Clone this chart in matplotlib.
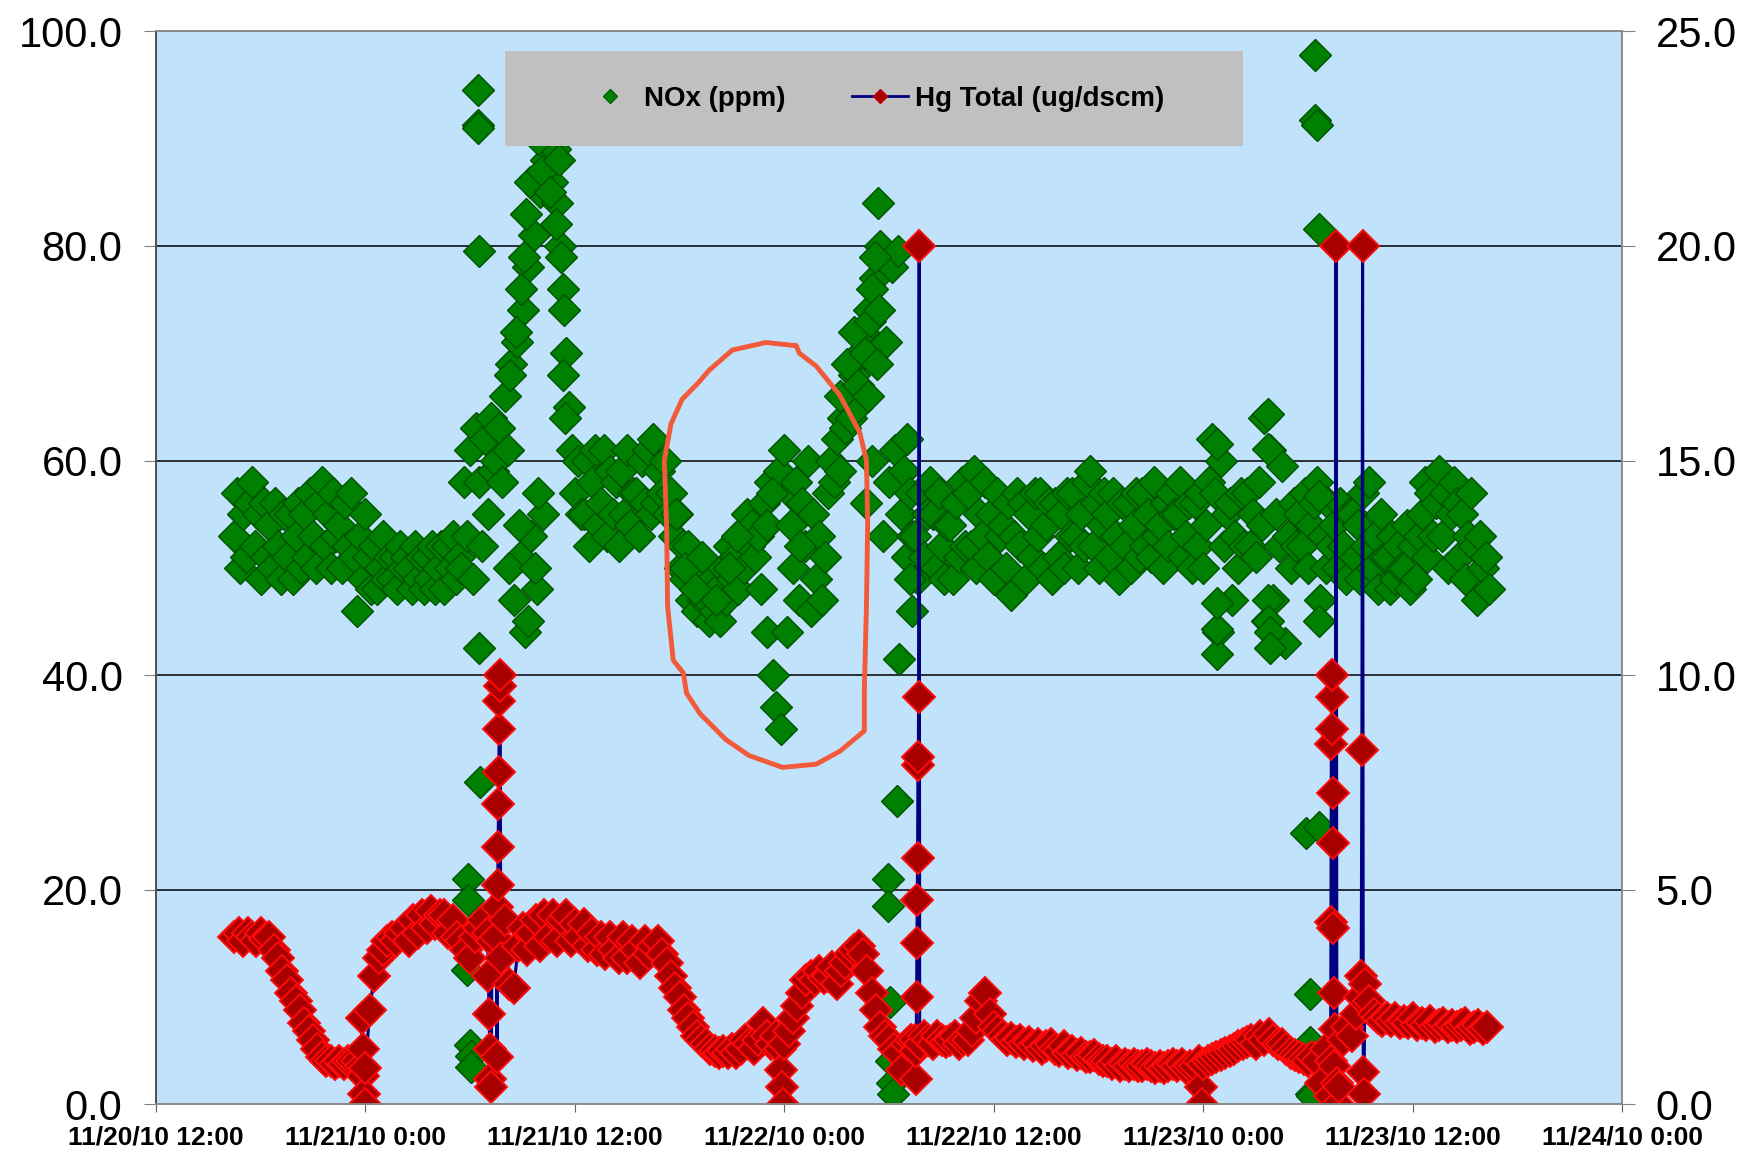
import numpy as np
import matplotlib
matplotlib.use('Agg')
import matplotlib.pyplot as plt
from matplotlib.lines import Line2D
from matplotlib.patches import Rectangle

plt.rcParams['font.family'] = ['Liberation Sans', 'DejaVu Sans']

# time in hours after 11/20/10 12:00, first reading at 16:30
start_hour = 4.5
nox_step = 1 / 6     # NOx every 10 min
hg_step = 0.25       # Hg every 15 min

# NOx (ppm), one row per hour
nox_ppm = [
    53, 57, 50, 55, 51, 56,   58, 52, 55, 49, 56, 51,   54, 50, 56, 52, 49, 55,
    51, 55, 49, 53, 56, 50,   55, 51, 57, 53, 50, 56,   58, 52, 55, 50, 57, 53,
    54, 50, 56, 52, 57, 51,   46, 53, 49, 55, 51, 48,   52, 48, 50, 53, 49, 51,
    49, 51, 48, 52, 50, 51,   50, 48, 52, 49, 51, 48,   51, 49, 52, 48, 50, 52,
    48, 52, 50, 53, 49, 51,   50, 58, 53, 61, 49, 63,   58, 52, 62, 55, 64, 59,
    60, 63, 58, 66, 61, 69,   47, 71, 51, 74, 44, 78,   53, 81, 48, 85, 55, 88,
    90, 86, 89, 84, 80, 76,   70, 65, 61, 57, 60, 55,   55, 60, 52, 58, 61, 54,
    56, 61, 53, 59, 55, 58,   52, 59, 55, 61, 54, 57,   57, 53, 60, 56, 61, 55,
    62, 56, 59, 57, 60, 55,   57, 53, 55, 50, 52, 49,   52, 47, 50, 46, 49, 47,
    47, 45, 49, 46, 48, 45,   50, 47, 52, 49, 51, 48,   53, 50, 55, 52, 54, 51,
    53, 48, 56, 44, 58, 40,   37, 59, 35, 61, 44, 57,   50, 58, 47, 56, 52, 60,
    46, 55, 49, 53, 47, 51,   57, 60, 58, 62, 59, 64,   63, 66, 64, 68, 65, 70,
    72, 56, 74, 60, 77, 84,   80, 53, 71, 58, 78, 61,   79.5, 55, 59, 51, 57, 53,
    53, 49, 57, 51, 55, 58,   55, 50, 57, 52, 49, 54,   54, 49, 56, 51, 58, 52,
    57, 52, 59, 50, 55, 53,   58, 51, 55, 49, 57, 53,   54, 50, 56, 47.5, 53, 57,
    52, 56, 49, 55, 51, 57,   53, 57, 50, 54, 56, 49,   56, 51, 55, 50, 57, 53,
    57, 53, 50, 55, 52, 58,   59, 52, 56, 50, 54, 57,   55, 51, 57, 53, 49, 56,
    52, 56, 50, 54, 57, 51,   57, 52, 55, 51, 58, 53,   54, 50, 56, 52, 57, 55,
    55, 58, 51, 53, 56, 50,   56, 52, 57, 50, 54, 58,   62, 57, 44, 60, 52, 55,
    56, 47, 53, 50, 57, 52,   57, 52, 55, 51, 58, 54,   64, 45, 61, 47, 55, 52,
    59.5, 43, 53, 50, 56, 52,   55, 52, 57, 50, 54, 56,   58, 47, 53, 50, 56, 52,
    54, 50, 56, 52, 49, 55,   55, 51, 54, 49, 57, 52,   58, 50, 53, 48, 55, 51,
    51, 48, 53, 49, 52, 50,   50, 54, 48, 52, 49, 53,   55, 58, 51, 57, 53, 56,
    59, 53, 57, 50, 55, 58,   56, 51, 55, 49, 53, 57,   52, 47, 53, 50, 51, 48,
]

# Hg Total (ug/dscm), one row per hour
hg_total = [
    3.9, 4.0, 3.8, 4.0,  3.9, 3.8, 4.0, 3.85,  3.9, 3.6, 3.4, 3.1,  2.9, 2.6, 2.4, 2.2,
    1.9, 1.7, 1.5, 1.3,  1.1, 1.0, 1.0, 0.95,  1.0, 0.95, 1.0, 1.0,  1.0, 0.9, 0.85, 2.2,
    3.0, 3.4, 3.6, 3.8,  3.9, 3.8, 4.0, 4.1,  3.8, 4.3, 4.0, 4.4,  4.1, 4.5, 4.2, 4.4,
    4.4, 4.0, 4.3, 3.9,  3.8, 3.6, 3.4, 3.9,  4.1, 4.3, 4.0, 3.8,  3.9, 3.4, 4.3, 2.8,
    2.7, 3.7, 4.1, 3.6,  4.0, 4.3, 3.7, 4.4,  3.9, 4.4, 3.8, 4.3,  4.4, 3.8, 4.2, 3.9,
    4.2, 3.7, 4.0, 3.6,  3.9, 3.5, 3.9, 3.6,  3.4, 3.9, 3.4, 3.8,  3.6, 3.3, 3.8, 3.5,
    3.7, 3.8, 3.5, 3.3,  3.0, 2.7, 2.5, 2.2,  2.0, 1.8, 1.6, 1.5,  1.4, 1.3, 1.25, 1.2,
    1.25, 1.2, 1.3, 1.2,  1.3, 1.5, 1.4, 1.3,  1.5, 1.9, 1.6, 1.4,  1.6, 1.3, 1.4, 1.7,
    2.0, 2.3, 2.6, 2.9,  3.0, 2.9, 3.1, 2.95,  3.0, 3.2, 2.8, 3.1,  3.3, 3.5, 3.6, 3.7,
    3.5, 3.1, 2.6, 2.2,  1.8, 1.6, 1.5, 1.3,  1.2, 0.8, 1.4, 1.5,  1.5, 1.4, 1.6, 1.5,
    1.4, 1.6, 1.5, 1.45,  1.5, 1.6, 1.4, 1.5,  1.5, 1.7, 2.0, 2.4,  2.6, 2.1, 1.8, 1.7,
    1.6, 1.5, 1.55, 1.45,  1.5, 1.4, 1.45, 1.35,  1.4, 1.3, 1.35, 1.4,  1.3, 1.25, 1.35, 1.2,
    1.25, 1.15, 1.2, 1.1,  1.1, 1.15, 1.05, 1.0,  1.0, 0.95, 1.0, 0.9,  0.95, 0.9, 0.95, 0.9,
    0.9, 0.95, 0.9, 0.85,  0.9, 0.85, 0.9, 0.95,  0.9, 0.95, 0.85, 0.9,  0.9, 1.0, 0.95, 1.0,
    1.05, 1.1, 1.15, 1.2,  1.25, 1.3, 1.35, 1.4,  1.45, 1.5, 1.4, 1.6,  1.5, 1.65, 1.5, 1.4,
    1.4, 1.3, 1.2, 1.15,  1.1, 1.05, 1.0, 1.1,  1.0, 0.5, 1.3, 0.2,  0.9, 0.4, 1.5, 1.8,
    1.6, 2.1, 2.5, 2.8,  2.4, 2.1, 2.0, 1.95,  2.0, 1.95, 2.0, 1.9,  1.95, 1.9, 2.0, 1.85,
    1.9, 1.85, 1.95, 1.8,  1.85, 1.9, 1.8, 1.85,  1.8, 1.85, 1.9, 1.75,  1.8, 1.85, 1.75, 1.8,
]

# extra NOx readings during calibrations / upsets / fast swings
nox_extra_hours = [17.8, 17.86, 17.9, 18.0, 18.02, 18.05, 18.43, 18.45, 18.47, 18.5, 18.52, 18.56,
                   20.3, 20.6, 20.9, 21.1, 21.2, 21.4, 21.9, 22.1, 22.4, 22.6, 22.9, 23.1,
                   23.2, 23.3, 23.4, 23.45, 20.2, 20.8, 21.3, 21.7, 21.9,
                   29.8, 30.3, 30.9, 31.3, 32.1, 32.8, 33.3, 35.0, 35.3, 36.4, 36.9,
                   39.2, 39.6, 40.0, 40.2, 40.6, 40.8, 40.9, 41.0, 41.2, 41.3, 41.4,
                   41.92, 41.95, 42.05, 42.1, 42.15, 42.24, 42.43, 42.56, 43.0, 43.2, 43.3,
                   60.8, 60.8, 60.8, 60.8, 63.7, 63.7, 63.7, 63.7, 63.8, 63.8,
                   65.9, 66.1, 66.1, 66.15, 66.2, 66.4, 66.4, 66.5, 66.6, 66.6, 66.6, 66.6]
nox_extra_ppm = [12.5, 21, 19, 5.5, 4.5, 3.5, 94.5, 91.3, 91, 79.5, 42.5, 30,
                 68, 72, 76, 79, 83, 86, 90, 87, 91, 85, 82, 88,
                 79, 68, 74, 64, 50, 54, 45, 50, 57,
                 55, 50, 48, 51, 47, 50, 53, 54, 57, 54, 52,
                 66, 69, 72, 67, 70, 66, 73, 76, 79, 69, 74,
                 21, 18.5, 9.5, 4, 2, 1, 28.3, 41.5, 62, 49, 46,
                 42, 44.3, 46.7, 61.5, 64.3, 61.1, 47, 45, 44, 42.5,
                 25.3, 10.3, 5.8, 1, 0.8, 97.8, 91.7, 91.3, 81.6, 45, 56.7, 25.8]

# extra Hg readings during the spikes and drop-outs
hg_extra_hours = [11.80, 11.84, 11.88, 11.92, 11.96,
                  19.04, 19.08, 19.12, 19.16, 19.20,
                  19.54, 19.56, 19.58, 19.60, 19.62, 19.64, 19.66, 19.68, 19.70, 19.72,
                  35.82, 35.88, 35.94,
                  43.53, 43.55, 43.57, 43.59, 43.61, 43.63, 43.65, 43.67, 43.69, 43.72,
                  59.85, 59.92,
                  67.29, 67.31, 67.33, 67.35, 67.37, 67.39, 67.41, 67.43, 67.45, 67.47,
                  67.55, 67.60, 67.65, 67.70,
                  69.04, 69.08, 69.12, 69.16, 69.20]
hg_extra_vals = [2.0, 1.3, 0.65, 0.25, 0.0,
                 3.0, 2.1, 1.3, 0.6, 0.4,
                 1.1, 4.6, 5.1, 6.0, 7.0, 7.75, 8.75, 9.4, 9.75, 10.0,
                 0.8, 0.4, 0.0,
                 0.6, 1.25, 2.5, 3.75, 4.75, 5.75, 7.9, 8.1, 9.5, 20.0,
                 0.4, 0.0,
                 1.0, 4.25, 8.4, 9.5, 10.0, 8.75, 7.25, 6.1, 4.1, 2.6,
                 1.75, 20.0, 0.5, 0.0,
                 3.0, 8.25, 20.0, 0.75, 0.25]

tick_hours = [0, 12, 24, 36, 48, 60, 72, 84]
tick_labels = ['11/20/10 12:00', '11/21/10 0:00', '11/21/10 12:00', '11/22/10 0:00',
               '11/22/10 12:00', '11/23/10 0:00', '11/23/10 12:00', '11/24/10 0:00']

# hand-drawn circle around the NOx dip (hours, ppm)
circle_hours = [36.67, 34.94, 33.02, 31.68, 31.1, 30.14, 29.5, 29.12, 29.25, 29.31, 29.63, 30.21,
                30.4, 31.17, 32.64, 33.98, 35.9, 37.82, 39.17, 40.58, 40.58, 40.7, 40.77, 40.7,
                40.32, 39.17, 37.82, 36.86, 36.67]
circle_ppm = [70.7, 71.0, 70.3, 68.4, 67.3, 65.7, 63.4, 60.0, 54.1, 46.4, 41.4, 40.2,
              38.3, 36.4, 34.0, 32.5, 31.4, 31.7, 32.9, 34.8, 38.7, 46.4, 54.1, 60.0,
              62.6, 66.1, 68.8, 70.0, 70.7]

nox_t = np.concatenate([start_hour + nox_step * np.arange(len(nox_ppm)), nox_extra_hours])
nox_v = np.concatenate([nox_ppm, nox_extra_ppm])

hg_t = np.concatenate([start_hour + hg_step * np.arange(len(hg_total)), hg_extra_hours])
hg_v = np.concatenate([hg_total, hg_extra_vals])
order = np.argsort(hg_t, kind='stable')
hg_t, hg_v = hg_t[order], hg_v[order]

fig = plt.figure(figsize=(17.52, 11.6), dpi=100)
ax1 = fig.add_subplot(111)
fig.subplots_adjust(left=0.089, right=0.926, top=0.973, bottom=0.048)
ax2 = ax1.twinx()

ax1.set_facecolor('#c0e2fa')
ax1.set_axisbelow(True)
ax1.grid(axis='y', color='black', linewidth=1.1)

ax1.plot(nox_t, nox_v, linestyle='none', marker='D', markersize=16.5,
         markerfacecolor='#008000', markeredgecolor='#005200', markeredgewidth=1.0)

ax2.plot(hg_t, hg_v, color='#000080', linewidth=2.2, marker='D', markersize=16,
         markerfacecolor='#a80000', markeredgecolor='#ff0a0a', markeredgewidth=1.4)

ax2.plot(circle_hours, np.array(circle_ppm) / 4, color='#f25a3a', linewidth=3.5,
         solid_joinstyle='round', solid_capstyle='round', zorder=5)

ax1.set_xlim(0, 84)
ax1.set_ylim(0, 100)
ax2.set_ylim(0, 25)

ax1.set_yticks(np.arange(0, 101, 20))
ax1.set_yticklabels([f'{v:.1f}' for v in np.arange(0, 101, 20)])
ax2.set_yticks(np.arange(0, 26, 5))
ax2.set_yticklabels([f'{v:.1f}' for v in np.arange(0, 26, 5)])
ax1.set_xticks(tick_hours)
ax1.set_xticklabels(tick_labels, fontsize=19, fontweight='bold')

ax1.tick_params(axis='y', length=9, pad=15, labelsize=30, color='#808080')
ax2.tick_params(axis='y', length=9, pad=15, labelsize=30, color='#808080')
ax1.tick_params(axis='x', length=6, pad=9, color='#606060')

for ax in (ax1, ax2):
    for side in ('top', 'right', 'bottom'):
        ax.spines[side].set_color('#8c8c8c')
    ax.spines['left'].set_color('#505050')
    for sp in ax.spines.values():
        sp.set_linewidth(1.3)

# legend on a grey box
ax2.add_patch(Rectangle((0.238, 0.893), 0.503, 0.089, transform=ax2.transAxes,
                        facecolor='#c0c0c0', edgecolor='none', zorder=10))
handles = [
    Line2D([], [], linestyle='none', marker='D', markersize=7,
           markerfacecolor='#008000', markeredgecolor='#006000'),
    Line2D([], [], color='#000080', linewidth=2, marker='D', markersize=7,
           markerfacecolor='#a80000', markeredgecolor='#c00000'),
]
leg = ax2.legend(handles, ['NOx (ppm)', 'Hg Total (ug/dscm)'], loc='center',
                 bbox_to_anchor=(0.489, 0.937), ncol=2, frameon=False,
                 prop={'size': 20, 'weight': 'bold'}, handlelength=2.0,
                 handletextpad=0.25, columnspacing=2.4)
leg.set_zorder(11)

fig.savefig('out.png', dpi=100)
